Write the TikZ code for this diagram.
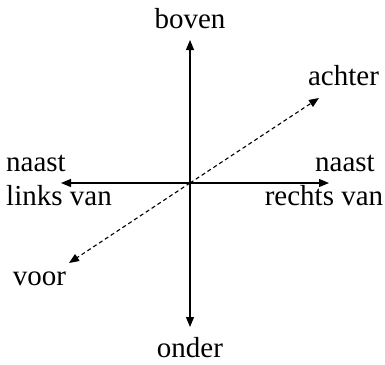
\documentclass[tikz,border=0pt]{standalone}
\usepackage{fontspec}
\setmainfont{Liberation Serif}
\usetikzlibrary{arrows.meta}

\begin{document}
\begin{tikzpicture}[
  x=1pt, y=-1pt,
  label/.style={anchor=base, inner sep=0pt, font=\fontsize{29}{31}\selectfont},
  axis/.style={-{Triangle[length=10pt, width=8pt]}, line width=1.1pt},
  depth/.style={axis, dashed, dash pattern=on 4pt off 3pt}
]
\useasboundingbox (0,0) rectangle (385,364);

% axis ends
\coordinate (o) at (190,183);
\coordinate (up) at (190,40);
\coordinate (down) at (190,327);
\coordinate (left) at (61,183);
\coordinate (right) at (329,183);
\coordinate (back) at (319,98);
\coordinate (front) at (69,263);

% labels
\node[label] (boven) at (190,28) {boven};
\node[label] (onder) at (190,357) {onder};
\node[label] (achter) at (343.5,85) {achter};
\node[label] (voor) at (39.5,285) {voor};
\node[label] (naastr) at (345,171) {naast};
\node[label] (rechts) at (324,205) {rechts van};
\node[label] (naastl) at (36,171) {naast};
\node[label] (links) at (59,205) {links van};

% axes
\draw[axis] (o) -- (up);
\draw[axis] (o) -- (down);
\draw[axis] (o) -- (left);
\draw[axis] (o) -- (right);
\draw[depth] (o) -- (back);
\draw[depth] (o) -- (front);
\end{tikzpicture}
\end{document}
